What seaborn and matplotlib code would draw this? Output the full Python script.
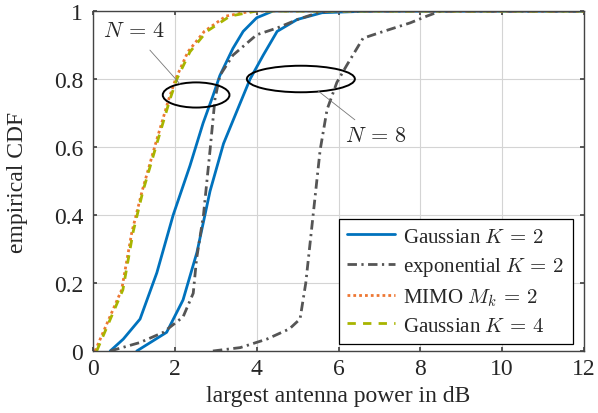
import numpy as np
import pandas as pd
import matplotlib
matplotlib.use("Agg")
import matplotlib.pyplot as plt
import seaborn as sns
from matplotlib.patches import Ellipse

# ---- data ----
gk2_n4_x = [0.42, 0.74, 1.15, 1.56, 1.96, 2.37, 2.69, 2.93, 3.10, 3.42, 3.67, 4.00, 4.40, 12.0]
gk2_n4_y = [0.00, 0.035, 0.094, 0.23, 0.40, 0.545, 0.67, 0.75, 0.81, 0.89, 0.94, 0.98, 1.00, 1.00]

gk2_n8_x = [1.07, 1.80, 2.20, 2.54, 2.86, 3.19, 3.60, 3.84, 4.16, 4.50, 4.99, 5.60, 6.85, 12.0]
gk2_n8_y = [0.00, 0.055, 0.15, 0.29, 0.47, 0.61, 0.73, 0.80, 0.87, 0.94, 0.975, 0.995, 1.00, 1.00]

exp_n4_x = [0.42, 1.15, 1.72, 2.20, 2.45, 2.53, 2.70, 2.86, 2.98, 3.10, 3.42, 4.00, 4.50, 5.00, 5.50, 5.80, 12.0]
exp_n4_y = [0.00, 0.025, 0.055, 0.10, 0.17, 0.27, 0.40, 0.59, 0.74, 0.81, 0.87, 0.93, 0.95, 0.975, 0.995, 1.00, 1.00]

exp_n8_x = [2.93, 3.60, 4.25, 4.80, 5.06, 5.20, 5.38, 5.55, 5.72, 5.96, 6.20, 6.60, 7.10, 7.75, 8.16, 8.50, 12.0]
exp_n8_y = [0.00, 0.01, 0.035, 0.065, 0.094, 0.20, 0.40, 0.59, 0.71, 0.79, 0.84, 0.92, 0.94, 0.965, 0.985, 1.00, 1.00]

mimo_x = [0.05, 0.70, 0.95, 1.20, 1.53, 1.85, 2.02, 2.32, 2.72, 3.25, 3.90, 12.0]
mimo_y = [0.00, 0.18, 0.35, 0.47, 0.61, 0.74, 0.80, 0.88, 0.94, 0.985, 1.00, 1.00]

gk4_x = [0.09, 0.73, 0.98, 1.22, 1.56, 1.88, 2.05, 2.37, 2.78, 3.35, 4.00, 12.0]
gk4_y = [0.00, 0.18, 0.35, 0.47, 0.61, 0.74, 0.80, 0.88, 0.94, 0.985, 1.00, 1.00]

x_ticks = [0, 2, 4, 6, 8, 10, 12]
y_ticks = [0, 0.2, 0.4, 0.6, 0.8, 1]
y_tick_labels = ["0", "0.2", "0.4", "0.6", "0.8", "1"]

# ---- style ----
sns.set_theme(style="whitegrid")
plt.rcParams["font.family"] = ["Liberation Serif", "DejaVu Serif"]
plt.rcParams["mathtext.fontset"] = "cm"

fig = plt.figure(figsize=(5.98, 4.14), dpi=100)
ax = fig.add_axes([93 / 598, 62 / 414, 491 / 598, 340 / 414])

blue = "#0072BD"
gray = "#555555"
orange = "#EE7733"
olive = "#A8B400"
lw = 2.0
FS = 17
LFS = 15

def draw(x, y, color, label, dashes):
    df = pd.DataFrame({"x": x, "y": y})
    sns.lineplot(data=df, x="x", y="y", ax=ax, color=color, lw=lw,
                 sort=False, estimator=None, label=label)
    line = ax.get_lines()[-1]
    if dashes is not None:
        line.set_dashes(dashes)
    return line

draw(gk2_n4_x, gk2_n4_y, blue, r"Gaussian $K\,=\,2$", None)
draw(gk2_n8_x, gk2_n8_y, blue, None, None)
draw(exp_n4_x, exp_n4_y, gray, r"exponential $K\,=\,2$", [3.4, 1.6, 0.8, 1.6])
draw(exp_n8_x, exp_n8_y, gray, None, [3.4, 1.6, 0.8, 1.6])
draw(mimo_x, mimo_y, orange, r"MIMO $M_k\,=\,2$", [1.0, 1.1])
draw(gk4_x, gk4_y, olive, r"Gaussian $K\,=\,4$", [3.0, 2.6])

# annotations
ax.add_patch(Ellipse((2.52, 0.753), 1.63, 0.074, fill=False, ec="black", lw=1.4, zorder=5))
ax.add_patch(Ellipse((5.08, 0.80), 2.64, 0.078, fill=False, ec="black", lw=1.4, zorder=5))
ax.plot([1.39, 2.13], [0.885, 0.785], color="#777777", lw=0.6, zorder=5)
ax.plot([5.5, 6.4], [0.765, 0.68], color="#777777", lw=0.6, zorder=5)
ax.text(1.0, 0.94, r"$N\,=\,4$", fontsize=16, ha="center", va="center")
ax.text(6.92, 0.63, r"$N\,=\,8$", fontsize=16, ha="center", va="center")

ax.set_xlim(0, 12)
ax.set_ylim(0, 1)
ax.set_xticks(x_ticks)
ax.set_xticklabels([str(t) for t in x_ticks])
ax.set_yticks(y_ticks)
ax.set_yticklabels(y_tick_labels)
ax.set_xlabel("largest antenna power in dB", fontsize=FS)
ax.set_ylabel("empirical CDF", fontsize=FS)
ax.xaxis.set_label_coords(0.5, -0.100)
ax.yaxis.set_label_coords(-0.132, 0.5)
ax.tick_params(axis="both", labelsize=FS, direction="in", length=3, color="#444444",
               top=True, right=True, bottom=True, left=True)
ax.tick_params(axis="x", pad=5)
ax.tick_params(axis="y", pad=7)
ax.grid(True, color="#d4d4d4", lw=0.8)
for s in ax.spines.values():
    s.set_color("#444444")
    s.set_linewidth(1.0)

leg = ax.legend(loc="lower right", bbox_to_anchor=(1 - 11 / 491, 7 / 340),
                fontsize=LFS, frameon=True, fancybox=False,
                edgecolor="black", framealpha=1, handlelength=2.3,
                borderpad=0.4, labelspacing=0.4, handletextpad=0.4,
                borderaxespad=0.0)
leg.get_frame().set_linewidth(0.9)

fig.savefig("out.png", dpi=100)
